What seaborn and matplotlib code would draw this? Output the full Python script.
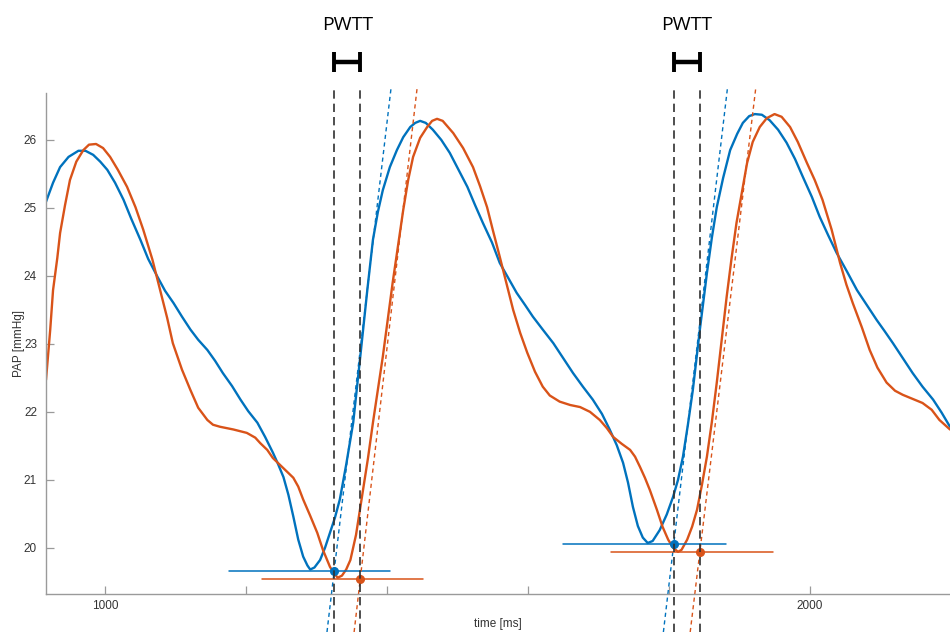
import numpy as np
import pandas as pd
import seaborn as sns
import matplotlib.pyplot as plt

# pressure traces (time in ms, PAP in mmHg)
blue_t = [916, 926, 936, 948, 962, 972, 983, 993, 1003, 1014, 1026, 1037, 1050, 1061, 1074,
          1085, 1097, 1109, 1121, 1132, 1145, 1156, 1167, 1180, 1192, 1203, 1216, 1227, 1238, 1245,
          1253, 1260, 1267, 1274, 1281, 1287, 1291, 1297, 1305, 1312, 1319, 1326, 1333, 1342, 1352,
          1362, 1372, 1380, 1387, 1394, 1404, 1414, 1423, 1433, 1440, 1447, 1455, 1465, 1477, 1489,
          1501, 1514, 1525, 1536, 1549, 1560, 1572, 1584, 1596, 1607, 1621, 1636, 1650, 1664, 1678,
          1692, 1705, 1716, 1726, 1735, 1742, 1749, 1756, 1763, 1770, 1777, 1787, 1797, 1806, 1813,
          1820, 1827, 1834, 1844, 1854, 1861, 1868, 1877, 1887, 1897, 1905, 1914, 1922, 1932, 1943,
          1955, 1967, 1979, 1990, 2003, 2014, 2026, 2038, 2053, 2067, 2081, 2095, 2106, 2118, 2132,
          2146, 2160, 2175, 2187, 2199]
blue_p = [25.09, 25.37, 25.60, 25.75, 25.84, 25.84, 25.78, 25.68, 25.56, 25.37, 25.12, 24.84, 24.53, 24.25, 23.99,
          23.78, 23.60, 23.40, 23.21, 23.06, 22.91, 22.75, 22.57, 22.38, 22.18, 22.01, 21.84, 21.63, 21.40, 21.24,
          21.04, 20.78, 20.46, 20.12, 19.87, 19.74, 19.68, 19.71, 19.82, 20.00, 20.22, 20.44, 20.71, 21.22, 21.84,
          22.81, 23.79, 24.53, 24.94, 25.26, 25.60, 25.85, 26.04, 26.19, 26.25, 26.28, 26.25, 26.15, 26.00, 25.81,
          25.57, 25.31, 25.04, 24.78, 24.49, 24.19, 23.97, 23.75, 23.57, 23.40, 23.21, 23.01, 22.79, 22.57, 22.37,
          22.18, 21.97, 21.74, 21.51, 21.25, 20.96, 20.60, 20.32, 20.15, 20.07, 20.10, 20.26, 20.49, 20.75, 21.00,
          21.34, 21.81, 22.32, 23.21, 24.04, 24.56, 25.01, 25.44, 25.85, 26.09, 26.25, 26.35, 26.38, 26.37, 26.29,
          26.15, 25.96, 25.72, 25.46, 25.16, 24.87, 24.60, 24.34, 24.06, 23.79, 23.57, 23.35, 23.19, 23.01, 22.79,
          22.57, 22.37, 22.18, 21.99, 21.78]

orange_t = [916, 922, 926, 932, 936, 943, 950, 959, 969, 977, 987, 997, 1007, 1018, 1031,
            1043, 1054, 1067, 1078, 1088, 1096, 1109, 1121, 1132, 1145, 1153, 1163, 1182, 1201, 1213,
            1220, 1230, 1238, 1252, 1267, 1274, 1281, 1291, 1301, 1309, 1319, 1325, 1330, 1336, 1342,
            1348, 1356, 1366, 1373, 1380, 1394, 1408, 1423, 1430, 1437, 1447, 1457, 1464, 1471, 1479,
            1494, 1508, 1522, 1532, 1542, 1550, 1560, 1570, 1579, 1589, 1599, 1610, 1621, 1631, 1645,
            1660, 1674, 1688, 1702, 1712, 1721, 1733, 1745, 1752, 1759, 1766, 1773, 1783, 1791, 1799,
            1806, 1813, 1818, 1826, 1833, 1840, 1847, 1854, 1861, 1868, 1875, 1882, 1889, 1896, 1904,
            1911, 1919, 1929, 1939, 1950, 1960, 1972, 1983, 1996, 2007, 2018, 2031, 2043, 2052, 2061,
            2074, 2085, 2096, 2109, 2121, 2132, 2146, 2160, 2173, 2184, 2199]
orange_p = [22.47, 23.21, 23.79, 24.26, 24.63, 25.04, 25.41, 25.68, 25.85, 25.93, 25.94, 25.88, 25.75, 25.56, 25.31,
            25.01, 24.68, 24.24, 23.79, 23.38, 23.01, 22.62, 22.32, 22.06, 21.88, 21.81, 21.78, 21.74, 21.69, 21.62,
            21.54, 21.44, 21.32, 21.18, 21.03, 20.90, 20.71, 20.47, 20.22, 19.97, 19.72, 19.62, 19.56, 19.59, 19.68,
            19.82, 20.19, 20.85, 21.32, 21.84, 22.81, 23.90, 24.97, 25.41, 25.75, 26.03, 26.19, 26.28, 26.31, 26.28,
            26.10, 25.88, 25.60, 25.32, 25.01, 24.68, 24.28, 23.87, 23.50, 23.16, 22.87, 22.59, 22.37, 22.24, 22.15,
            22.10, 22.07, 22.00, 21.88, 21.76, 21.63, 21.53, 21.44, 21.34, 21.19, 21.03, 20.85, 20.56, 20.31, 20.12,
            20.00, 19.94, 19.97, 20.12, 20.31, 20.56, 20.93, 21.34, 21.85, 22.43, 23.06, 23.69, 24.26, 24.78, 25.25,
            25.66, 25.97, 26.19, 26.32, 26.38, 26.34, 26.19, 25.97, 25.66, 25.41, 25.12, 24.68, 24.19, 23.87, 23.60,
            23.24, 22.91, 22.65, 22.43, 22.31, 22.25, 22.19, 22.13, 22.03, 21.88, 21.74]

# foot points (intersection of max-slope tangent with the minimum level)
blue_foot_t = [1325, 1807]
blue_foot_p = [19.66, 20.06]
blue_slope = [0.088, 0.088]
blue_base_start = [1176, 1650]
blue_base_end = [1404, 1881]

orange_foot_t = [1362, 1844]
orange_foot_p = [19.54, 19.94]
orange_slope = [0.0895, 0.086]
orange_base_start = [1223, 1718]
orange_base_end = [1451, 1948]

x_ticks = [1000, 1200, 1400, 1600, 1800, 2000]
x_labels = ['1000', '', '', '', '', '2000']
y_ticks = [20, 21, 22, 23, 24, 25, 26]

blue = '#0072BD'
orange = '#D95319'

sns.set_style('ticks')
plt.rcParams['font.family'] = ['Liberation Sans', 'DejaVu Sans']

df = pd.concat([
    pd.DataFrame({'time': blue_t, 'PAP': blue_p, 'signal': 'a'}),
    pd.DataFrame({'time': orange_t, 'PAP': orange_p, 'signal': 'b'}),
])

fig = plt.figure(figsize=(9.5, 6.32), dpi=100)
ax = fig.add_axes([46 / 950, 38 / 632, 904 / 950, 501 / 632])

sns.lineplot(data=df, x='time', y='PAP', hue='signal', palette=[blue, orange],
             linewidth=1.7, legend=False, sort=False, ax=ax)

y_lo, y_hi = 18.76, 26.78
pwtt_y = 27.15

for ft, fp, sl, b0, b1, col in [
        (blue_foot_t, blue_foot_p, blue_slope, blue_base_start, blue_base_end, blue),
        (orange_foot_t, orange_foot_p, orange_slope, orange_base_start, orange_base_end, orange)]:
    for i in range(len(ft)):
        # baseline (minimum level)
        ax.plot([b0[i], b1[i]], [fp[i], fp[i]], color=col, lw=1.1)
        # tangent line through the foot
        yy = np.array([y_lo, y_hi])
        ax.plot(ft[i] + (yy - fp[i]) / sl[i], yy, color=col, lw=1.0,
                ls=(0, (3, 2.5)), clip_on=False)
        ax.plot(ft[i], fp[i], 'o', color=col, markersize=5.5, mec=col)

# PWTT markers
for a, b in zip(blue_foot_t, orange_foot_t):
    for t in (a, b):
        ax.plot([t, t], [y_lo, y_hi], color='#303030', lw=1.2, ls=(0, (5, 3)), clip_on=False)
    eb = ax.errorbar((a + b) / 2, pwtt_y, xerr=(b - a) / 2, color='black', elinewidth=3.2,
                     capsize=7, capthick=2.8, fmt='none')
    for art in eb.lines:
        if isinstance(art, tuple):
            for s in art:
                s.set_clip_on(False)
        elif art is not None:
            art.set_clip_on(False)
    ax.text((a + b) / 2, 27.69, 'PWTT', ha='center', va='center', fontsize=14,
            family=['Open Sans', 'DejaVu Sans'], color='black')

ax.set_xlim(916, 2199)
ax.set_ylim(19.32, 26.69)
ax.set_xticks(x_ticks)
ax.set_xticklabels(x_labels)
ax.set_yticks(y_ticks)

for side in ['top', 'right']:
    ax.spines[side].set_visible(False)
for side in ['left', 'bottom']:
    ax.spines[side].set_color('#9a9a9a')
    ax.spines[side].set_linewidth(1.0)
ax.tick_params(direction='in', length=6, width=0.9, color='#9a9a9a',
               labelcolor='#333333', labelsize=8.5)
ax.tick_params(axis='y', pad=6.5)
ax.tick_params(axis='x', pad=4)

ax.set_xlabel('time [ms]', fontsize=8.5, color='#333333', labelpad=5)
ax.set_ylabel('PAP [mmHg]', fontsize=8.5, color='#333333')
ax.yaxis.set_label_coords(-0.023, 0.5)

fig.savefig('out.png', dpi=100)
